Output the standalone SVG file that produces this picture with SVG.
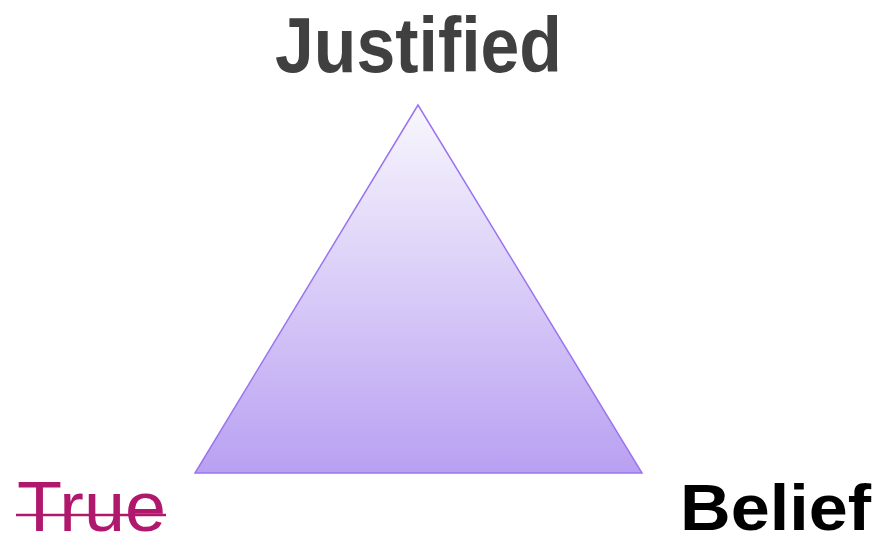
<svg xmlns="http://www.w3.org/2000/svg" width="881" height="538" viewBox="0 0 881 538">
<defs>
<linearGradient id="g" x1="0" y1="0" x2="0" y2="1">
<stop offset="0" stop-color="#f8f7fd"/>
<stop offset="1" stop-color="#b9a0f2"/>
</linearGradient>
<style>
.lbl{font-family:"Liberation Sans",Arial,sans-serif}
</style>
</defs>
<rect width="881" height="538" fill="#ffffff"/>
<g id="triangle">
<polygon points="418,105 195,473 642,473" fill="url(#g)" stroke="#9a74ee" stroke-width="1.5"/>
</g>
<g id="justified">
<text class="lbl" x="275" y="72" font-size="77" font-weight="bold" fill="#404040" textLength="287" lengthAdjust="spacingAndGlyphs">Justified</text>
</g>
<g id="true">
<text class="lbl" x="17" y="531" font-size="70" fill="#b0186d" textLength="149" lengthAdjust="spacingAndGlyphs">True</text>
<line x1="16" y1="515" x2="166" y2="515" stroke="#b0186d" stroke-width="2.5"/>
</g>
<g id="belief">
<text class="lbl" x="680" y="530" font-size="64" font-weight="bold" fill="#000000" textLength="191" lengthAdjust="spacingAndGlyphs">Belief</text>
</g>
</svg>
